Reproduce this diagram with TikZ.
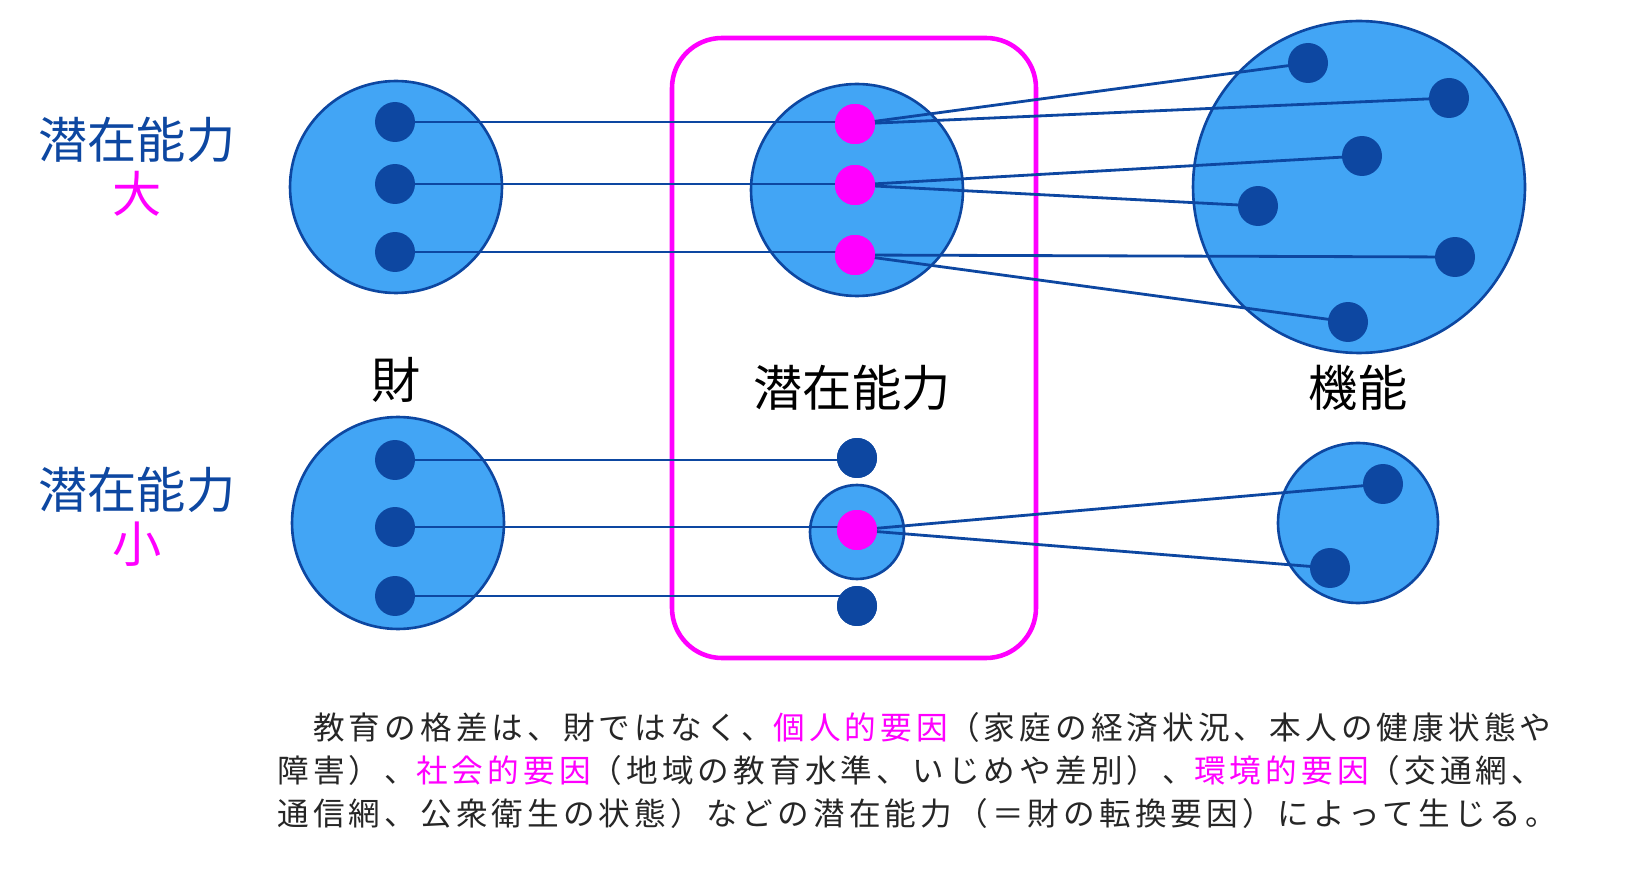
\documentclass[tikz,border=0pt]{standalone}
\usepackage{fontspec}
\setmainfont{Noto Sans CJK JP}
\newfontfamily\parafont[LetterSpace=13]{Noto Sans CJK JP}
\usetikzlibrary{positioning}
\definecolor{lblue}{HTML}{42A5F5}
\definecolor{dblue}{HTML}{0D47A1}
\definecolor{mag}{HTML}{FF00FF}
\tikzstyle{bigset} = [circle, draw=dblue, line width=1.5pt, fill=lblue, inner sep=0pt]
\tikzstyle{dot} = [circle, fill=dblue, minimum size=0.8cm, inner sep=0pt]
\tikzstyle{mdot} = [circle, fill=mag, minimum size=0.8cm, inner sep=0pt]
\tikzstyle{link} = [dblue, line width=1.6pt]
\tikzstyle{head} = [font=\fontsize{28}{30}\selectfont]
\tikzstyle{para} = [anchor=west, inner sep=0pt, font=\parafont\fontsize{18}{20}\selectfont, text=black!85]
\begin{document}
\begin{tikzpicture}[x=0.02cm, y=-0.02cm]

% sets
\node (g1) [bigset, minimum size=4.24cm] at (396,187) {};
\node (g2) [bigset, minimum size=4.24cm] at (398,523) {};
\node (c1) [bigset, minimum size=4.24cm] at (857,190) {};
\node (c2) [bigset, minimum size=1.88cm] at (857,532) {};
\node (f1) [bigset, minimum size=6.64cm] at (1359,187) {};
\node (f2) [bigset, minimum size=3.2cm] at (1358,523) {};
\draw [mag, line width=2.6pt, rounded corners=1cm] (672,38) rectangle (1036,658);

% dots
\node (ga) [dot] at (395,122) {};
\node (gb) [dot] at (395,184) {};
\node (gc) [dot] at (395,252) {};
\node (gd) [dot] at (395,460) {};
\node (ge) [dot] at (395,527) {};
\node (gf) [dot] at (395,596) {};
\node (fa) [dot] at (1308,63) {};
\node (fb) [dot] at (1449,98) {};
\node (fc) [dot] at (1362,156) {};
\node (fd) [dot] at (1258,206) {};
\node (fe) [dot] at (1455,257) {};
\node (ff) [dot] at (1348,322) {};
\node (fg) [dot] at (1383,484) {};
\node (fh) [dot] at (1330,568) {};
\node (cd) [dot] at (857,458) {};
\node (cf) [dot] at (857,606) {};
\node (ca) [mdot] at (855,124) {};
\node (cb) [mdot] at (855,185) {};
\node (cc) [mdot] at (855,255) {};
\node (ce) [mdot] at (857,530) {};

% links
\draw [link] (ga.center) -- (ga.center -| ca);
\draw [link] (gb.center) -- (gb.center -| cb);
\draw [link] (gc.center) -- (gc.center -| cc);
\draw [link] (gd.center) -- (gd.center -| cd);
\draw [link] (ge.center) -- (ge.center -| ce);
\draw [link] (gf.center) -- (gf.center -| cf);
\draw [link] (ca.center) -- (fa.center);
\draw [link] (ca.center) -- (fb.center);
\draw [link] (cb.center) -- (fc.center);
\draw [link] (cb.center) -- (fd.center);
\draw [link] (cc.center) -- (fe.center);
\draw [link] (cc.center) -- (ff.center);
\draw [link] (ce.center) -- (fg.center);
\draw [link] (ce.center) -- (fh.center);
\node [mdot] at (ca) {};
\node [mdot] at (cb) {};
\node [mdot] at (cc) {};
\node [mdot] at (ce) {};
\node [dot] at (cd) {};
\node [dot] at (cf) {};

% labels
\node (l1) [head, text=dblue] at (137,140) {潜在能力};
\node (l2) [head, text=mag, below=-2pt of l1] {大};
\node (l3) [head, text=dblue] at (137,490) {潜在能力};
\node (l4) [head, text=mag, below=-2pt of l3] {小};
\node (t1) [head] at (396,380) {財};
\node (t2) [head] at (852,388) {潜在能力};
\node (t3) [head] at (1358,388) {機能};

% text
\node (p1) [para] at (277,727) {　教育の格差は、財ではなく、\textcolor{mag}{個人的要因}（家庭の経済状況、本人の健康状態や};
\node (p2) [para] at (277,770) {障害）、\textcolor{mag}{社会的要因}（地域の教育水準、いじめや差別）、\textcolor{mag}{環境的要因}（交通網、};
\node (p3) [para] at (277,813) {通信網、公衆衛生の状態）などの潜在能力（＝財の転換要因）によって生じる。};

\pgfresetboundingbox
\path [use as bounding box] (0,0) rectangle (1640,888);
\end{tikzpicture}
\end{document}
